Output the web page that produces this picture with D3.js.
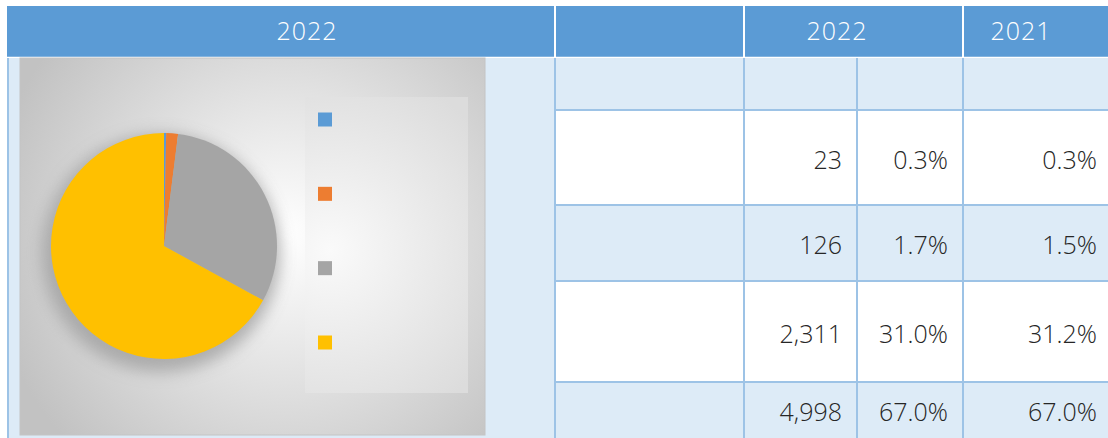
<!DOCTYPE html>
<html lang="en">
<head>
<meta charset="UTF-8">
<title>Pie with table</title>
<script src="https://d3js.org/d3.v7.min.js"></script>
<style>
    body { margin: 0; background: #ffffff; }
    svg { display: block; }
    .num { font-family: "Open Sans", sans-serif; font-weight: 300; font-size: 25px; fill: #262626; }
    .head { font-family: "Open Sans", sans-serif; font-weight: 300; font-size: 25px; fill: #ffffff; }
</style>
</head>
<body>
<svg width="1108" height="438"></svg>
<script>
    // data
    let categories = ["s1", "s2", "s3", "s4"];
    let headerYears = ["2022", "2022", "2021"];
    let values2022 = [23, 126, 2311, 4998];
    let share2022 = [0.003, 0.017, 0.310, 0.670];
    let share2021 = [0.003, 0.015, 0.312, 0.670];
    let colors = ["#5b9bd5", "#ed7d31", "#a5a5a5", "#ffc000"];

    let svg = d3.select('svg');
    let W = 1108, H = 438;

    // layout of the grid
    let headTop = 6, headBottom = 57;
    let colEdges = [7, 555, 744, 857, 963, 1108];   // left block | label | value | pct22 | pct21
    let rowEdges = [58, 110, 205, 281, 382, 438];   // first row is the blank sub-header row
    let blue = "#5b9bd5", pale = "#ddebf7", line = "#9dc3e6";

    // header band
    svg.append('rect').attr('x', colEdges[0]).attr('y', headTop)
        .attr('width', W - colEdges[0]).attr('height', headBottom - headTop).attr('fill', blue);
    // white separators in header
    [555, 744, 963].forEach(function (x) {
        svg.append('line').attr('x1', x).attr('x2', x).attr('y1', headTop).attr('y2', headBottom)
            .attr('stroke', '#ffffff').attr('stroke-width', 2);
    });
    svg.append('line').attr('x1', colEdges[0]).attr('x2', W).attr('y1', headBottom + 0.5).attr('y2', headBottom + 0.5)
        .attr('stroke', '#ffffff').attr('stroke-width', 1.5);

    let headX = [307, 837, 1021];
    svg.selectAll('text.head').data(headerYears).enter().append('text')
        .attr('class', 'head')
        .attr('x', function (d, i) { return headX[i]; })
        .attr('y', 30)
        .attr('text-anchor', 'middle')
        .attr('dominant-baseline', 'central')
        .attr('letter-spacing', 1)
        .text(function (d) { return d; });

    // body rows
    let rows = d3.range(rowEdges.length - 1);
    svg.selectAll('rect.row').data(rows).enter().append('rect')
        .attr('class', 'row')
        .attr('x', colEdges[1]).attr('width', W - colEdges[1])
        .attr('y', function (d) { return rowEdges[d]; })
        .attr('height', function (d) { return rowEdges[d + 1] - rowEdges[d]; })
        .attr('fill', function (d) { return d % 2 === 0 ? pale : '#ffffff'; });

    // merged left block
    svg.append('rect').attr('x', colEdges[0]).attr('y', rowEdges[0])
        .attr('width', colEdges[1] - colEdges[0]).attr('height', H - rowEdges[0]).attr('fill', pale);

    // grid lines
    rowEdges.slice(1, -1).forEach(function (y) {
        svg.append('line').attr('x1', colEdges[1]).attr('x2', W).attr('y1', y).attr('y2', y)
            .attr('stroke', line).attr('stroke-width', 2);
    });
    [8, 555, 744, 857, 963].forEach(function (x) {
        svg.append('line').attr('x1', x).attr('x2', x).attr('y1', rowEdges[0]).attr('y2', H)
            .attr('stroke', line).attr('stroke-width', 2);
    });

    // numbers
    let fmtInt = d3.format(',');
    let fmtPct = d3.format('.1%');
    let rowMid = function (i) { return (rowEdges[i + 1] + rowEdges[i + 2]) / 2 + 1; };
    let cols = [
        {vals: values2022, fmt: fmtInt, right: 842},
        {vals: share2022, fmt: fmtPct, right: 948},
        {vals: share2021, fmt: fmtPct, right: 1097}
    ];
    cols.forEach(function (c) {
        svg.append('g').selectAll('text').data(c.vals).enter().append('text')
            .attr('class', 'num')
            .attr('x', c.right)
            .attr('y', function (d, i) { return rowMid(i); })
            .attr('text-anchor', 'end')
            .attr('dominant-baseline', 'central')
            .text(function (d) { return c.fmt(d); });
    });

    // ---- chart picture ----
    let defs = svg.append('defs');
    let bg = defs.append('radialGradient').attr('id', 'bg')
        .attr('gradientUnits', 'userSpaceOnUse').attr('cx', 285).attr('cy', 235).attr('r', 300);
    bg.append('stop').attr('offset', '0%').attr('stop-color', '#ffffff');
    bg.append('stop').attr('offset', '100%').attr('stop-color', '#c2c2c2');

    let lg = defs.append('radialGradient').attr('id', 'lg')
        .attr('gradientUnits', 'userSpaceOnUse').attr('cx', 330).attr('cy', 250).attr('r', 190);
    lg.append('stop').attr('offset', '0%').attr('stop-color', '#fafafa');
    lg.append('stop').attr('offset', '100%').attr('stop-color', '#dcdcdc');

    let blur = defs.append('filter').attr('id', 'shadow')
        .attr('x', '-30%').attr('y', '-30%').attr('width', '160%').attr('height', '160%');
    blur.append('feGaussianBlur').attr('stdDeviation', 8);

    let chart = {x: 20, y: 58, w: 465, h: 377};
    svg.append('rect').attr('x', chart.x).attr('y', chart.y).attr('width', chart.w).attr('height', chart.h)
        .attr('fill', 'url(#bg)').attr('stroke', '#c4c4c4').attr('stroke-width', 1);

    // legend box
    let legendBox = {x: 305, y: 97, w: 163, h: 296};
    svg.append('rect').attr('x', legendBox.x).attr('y', legendBox.y)
        .attr('width', legendBox.w).attr('height', legendBox.h).attr('fill', 'url(#lg)');

    let cx = 164, cy = 246, r = 113;
    let g = svg.append('g').attr('transform', 'translate(' + cx + ',' + cy + ')');
    g.append('circle').attr('cx', -3).attr('cy', 7).attr('r', r + 6)
        .attr('fill', '#a0a0a0').attr('opacity', 0.8).attr('filter', 'url(#shadow)');

    let pie = d3.pie().sort(null).value(function (d) { return d; });
    let arc = d3.arc().innerRadius(0).outerRadius(r);
    g.selectAll('path').data(pie(values2022)).enter().append('path')
        .attr('d', arc)
        .attr('fill', function (d, i) { return colors[i]; });

    // legend keys (labels are blank in the source)
    let ly = d3.scalePoint().domain(categories).range([119.5, 342.5]);
    svg.append('g').selectAll('rect').data(categories).enter().append('rect')
        .attr('x', 318).attr('y', function (d) { return ly(d) - 7; })
        .attr('width', 14).attr('height', 14)
        .attr('fill', function (d, i) { return colors[i]; });
</script>
</body>
</html>
